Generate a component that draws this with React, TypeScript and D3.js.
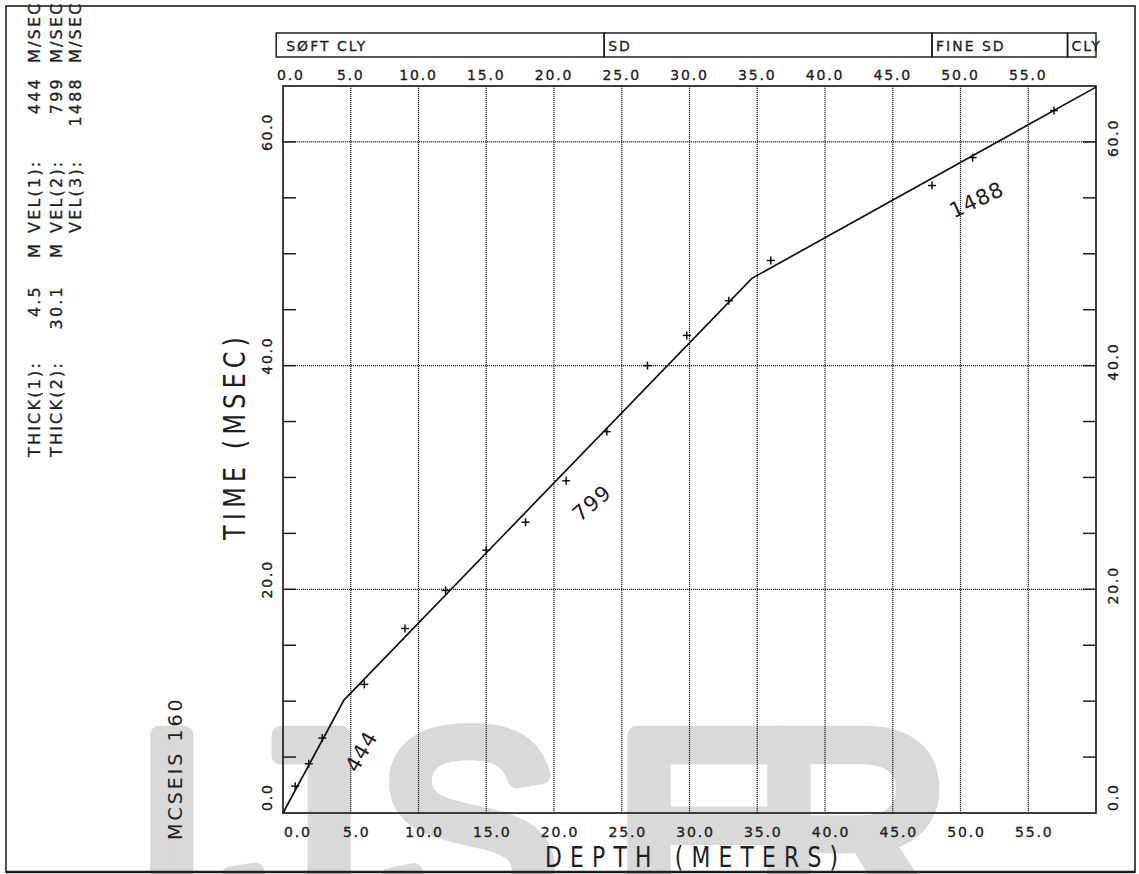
import React from "react";
import * as d3 from "d3";

// ---- data ----
const DEPTH_TICKS = [0, 5, 10, 15, 20, 25, 30, 35, 40, 45, 50, 55];
const TIME_LABELS = [0, 20, 40, 60];
const TIME_TICKS = [5, 10, 15, 20, 25, 30, 35, 40, 45, 50, 55, 60];
const TIME_GRID = [20, 40, 60];

const LAYER_NAMES = ["SØFT CLY", "SD", "FINE SD", "CLY"];
const LAYER_TOP = [-0.5, 23.7, 47.9, 57.9];
const LAYER_BOTTOM = [23.7, 47.9, 57.9, 60];

const MODEL_DEPTH = [0, 4.5, 34.6, 60];
const MODEL_TIME = [0, 10.1, 47.8, 64.9];

const OBS_DEPTH = [0.9, 1.9, 2.9, 6.0, 9.0, 12.0, 15.0, 17.9, 20.9, 23.9, 26.9, 29.8, 32.9, 36.0, 47.9, 50.9, 56.9];
const OBS_TIME = [2.4, 4.4, 6.7, 11.5, 16.5, 19.9, 23.5, 26.0, 29.7, 34.1, 40.0, 42.7, 45.8, 49.4, 56.1, 58.6, 62.8];

const VEL_LABELS = ["444", "799", "1488"];
const VEL_LABEL_DEPTH = [5.8, 22.8, 51.2];
const VEL_LABEL_TIME = [5.5, 27.7, 54.8];
const VEL_LABEL_ANGLE = [-60, -40, -25];

const THICK_VALUES = ["4.5", "30.1"];
const VEL_VALUES = ["444", "799", "1488"];

const WATERMARK = ["I", "J", "S", "E", "R"];
const WATERMARK_X = [134, 226, 377, 614, 754];

const FONT = "'DejaVu Sans', 'Liberation Sans', sans-serif";
const INK = "#1e1e1e";

export default function App() {
  const W = 1139;
  const H = 874;
  const x = d3.scaleLinear().domain([0, 60]).range([283, 1096]);
  const y = d3.scaleLinear().domain([0, 65]).range([813, 86]);

  const line = d3
    .line<number>()
    .x((_, i) => x(MODEL_DEPTH[i]))
    .y((_, i) => y(MODEL_TIME[i]));

  const rot = (bx: number, by: number) => `translate(${bx},${by}) rotate(-90)`;

  const headerLines = [0, 1, 2];
  const colX = [40, 62, 81];

  return (
    <svg
      width={W}
      height={H}
      style={{ position: "absolute", left: 0, top: 0, background: "#fff" }}
      fontFamily={FONT}
    >
      <rect x={0} y={0} width={W} height={H} fill="#fff" />
      {/* watermark */}
      {WATERMARK.map((ch, i) => (
        <text
          key={"wm" + i}
          x={WATERMARK_X[i]}
          y={922}
          fontSize={272}
          fontFamily="'Liberation Sans', Arial, sans-serif"
          fill="#d9d9d9"
          stroke="#d9d9d9"
          strokeWidth={18}
          strokeLinejoin="round"
        >
          {ch}
        </text>
      ))}

      {/* page border */}
      <rect x={6} y={6} width={1129} height={866} fill="none" stroke={INK} strokeWidth={1.6} />
      <line x1={6} x2={1135} y1={872} y2={872} stroke={INK} strokeWidth={2.4} />

      {/* left header info */}
      {headerLines.map((i) => (
        <g key={"hl" + i} fontSize={16} letterSpacing={2.2} fill={INK} stroke={INK} strokeWidth={0.3}>
          {i < 2 && (
            <>
              <text transform={rot(colX[i], 457)}>{`THICK(${i + 1}):`}</text>
              <text transform={rot(colX[i], 285)} textAnchor="end">
                {THICK_VALUES[i]}
              </text>
              <text transform={rot(colX[i], 258)}>M</text>
            </>
          )}
          <text transform={rot(colX[i], 233)}>{`VEL(${i + 1}):`}</text>
          <text transform={rot(colX[i], 77)} textAnchor="end">
            {VEL_VALUES[i]}
          </text>
          <text transform={rot(colX[i], 63)}>M/SEC</text>
        </g>
      ))}

      {/* MCSEIS */}
      <text transform={rot(182, 840)} fontSize={19} letterSpacing={3} fill={INK}>
        MCSEIS 160
      </text>

      {/* layer header box */}
      {LAYER_NAMES.map((name, i) => (
        <g key={"ly" + i}>
          <rect
            x={x(LAYER_TOP[i])}
            y={33}
            width={x(LAYER_BOTTOM[i]) - x(LAYER_TOP[i])}
            height={24}
            fill="none"
            stroke={INK}
            strokeWidth={1.5}
          />
          <text
            x={x(LAYER_TOP[i]) + (i === 0 ? 10 : 4)}
            y={50.5}
            fontSize={14}
            letterSpacing={2}
            fill={INK}
            stroke={INK}
            strokeWidth={0.3}
          >
            {name}
          </text>
        </g>
      ))}

      {/* vertical gridlines */}
      {DEPTH_TICKS.filter((d) => d > 0).map((d) => (
        <line
          key={"vg" + d}
          x1={x(d)}
          x2={x(d)}
          y1={y(0)}
          y2={y(65)}
          stroke="#222"
          strokeWidth={1.2}
          strokeDasharray="1.2,0.8"
        />
      ))}
      {/* horizontal gridlines */}
      {TIME_GRID.map((t) => (
        <line
          key={"hg" + t}
          x1={x(0)}
          x2={x(60)}
          y1={y(t)}
          y2={y(t)}
          stroke="#222"
          strokeWidth={1.2}
          strokeDasharray="1.2,0.8"
        />
      ))}
      {/* ticks left/right */}
      {TIME_TICKS.map((t) => (
        <g key={"tk" + t}>
          <line x1={x(0)} x2={x(0) + 13} y1={y(t)} y2={y(t)} stroke={INK} strokeWidth={1.5} />
          <line x1={x(60)} x2={x(60) - 13} y1={y(t)} y2={y(t)} stroke={INK} strokeWidth={1.5} />
        </g>
      ))}

      {/* frame */}
      <rect x={x(0)} y={y(65)} width={x(60) - x(0)} height={y(0) - y(65)} fill="none" stroke={INK} strokeWidth={1.7} />

      {/* top labels */}
      {DEPTH_TICKS.map((d) => (
        <text
          key={"tl" + d}
          x={d === 0 ? x(0) - 6 : x(d)}
          y={80}
          textAnchor={d === 0 ? "start" : "middle"}
          fontSize={14}
          letterSpacing={1.8}
          fill={INK}
          stroke={INK}
          strokeWidth={0.35}
        >
          {d.toFixed(1)}
        </text>
      ))}
      {/* bottom labels */}
      {DEPTH_TICKS.map((d) => (
        <text
          key={"bl" + d}
          x={d === 0 ? x(0) + 1 : x(d) + 6}
          y={837}
          textAnchor={d === 0 ? "start" : "middle"}
          fontSize={14}
          letterSpacing={1.8}
          fill={INK}
          stroke={INK}
          strokeWidth={0.35}
        >
          {d.toFixed(1)}
        </text>
      ))}
      {/* y labels */}
      {TIME_LABELS.map((t) => (
        <g key={"yl" + t} fontSize={14} letterSpacing={1.8} fill={INK} stroke={INK} strokeWidth={0.35}>
          <text
            transform={rot(272, t === 0 ? y(0) - 2 : y(t) - 10)}
            textAnchor={t === 0 ? "start" : "middle"}
          >
            {t.toFixed(1)}
          </text>
          <text
            transform={rot(1118, t === 0 ? y(0) - 2 : y(t) - 4)}
            textAnchor={t === 0 ? "start" : "middle"}
          >
            {t.toFixed(1)}
          </text>
        </g>
      ))}

      {/* axis titles */}
      <g transform="translate(245,540) rotate(-90) scale(0.78,1)">
        <text x={0} y={0} fontSize={31} textLength={203 / 0.78} lengthAdjust="spacing" fill={INK}>
          TIME (MSEC)
        </text>
      </g>
      <g transform="translate(545,867) scale(0.78,1)">
        <text x={0} y={0} fontSize={28} textLength={293 / 0.78} lengthAdjust="spacing" fill={INK}>
          DEPTH (METERS)
        </text>
      </g>

      {/* model line */}
      <path d={line(MODEL_DEPTH) || ""} fill="none" stroke="#111" strokeWidth={1.7} />

      {/* observed points */}
      {OBS_DEPTH.map((d, i) => {
        const px = x(d);
        const py = y(OBS_TIME[i]);
        return (
          <g key={"pt" + i} stroke="#111" strokeWidth={1.5}>
            <line x1={px - 4} x2={px + 4} y1={py} y2={py} />
            <line x1={px} x2={px} y1={py - 4} y2={py + 4} />
          </g>
        );
      })}

      {/* velocity annotations */}
      {VEL_LABELS.map((lab, i) => (
        <text
          key={"vl" + i}
          transform={`translate(${x(VEL_LABEL_DEPTH[i])},${y(VEL_LABEL_TIME[i])}) rotate(${VEL_LABEL_ANGLE[i]})`}
          textAnchor="middle"
          dominantBaseline="central"
          fontSize={21}
          letterSpacing={1}
          fill={INK}
        >
          {lab}
        </text>
      ))}
    </svg>
  );
}
